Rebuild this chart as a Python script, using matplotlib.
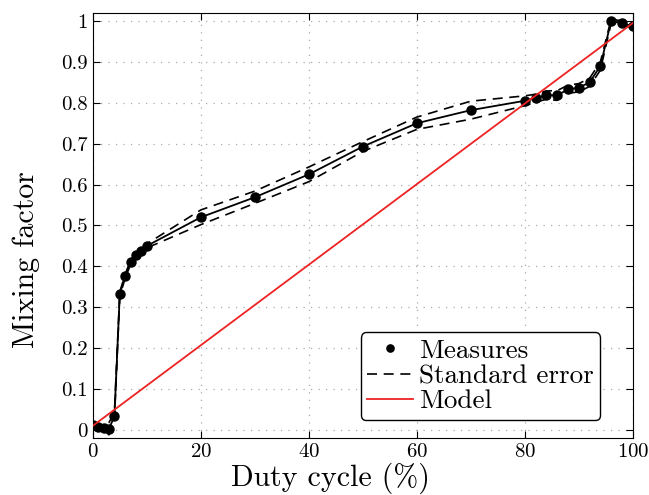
import numpy as np
import matplotlib.pyplot as plt

plt.rcParams['font.family'] = ['cmr10', 'DejaVu Serif']
plt.rcParams['axes.formatter.use_mathtext'] = True
plt.rcParams['mathtext.fontset'] = 'cm'

duty = [0, 1, 2, 3, 4, 5, 6, 7, 8, 9, 10, 20, 30, 40, 50, 60, 70, 80,
        82, 84, 86, 88, 90, 92, 94, 96, 98, 100]
mixing = [0.013, 0.008, 0.004, 0.003, 0.033, 0.333, 0.376, 0.41, 0.428, 0.437, 0.45,
          0.52, 0.569, 0.625, 0.693, 0.75, 0.782, 0.805, 0.811, 0.819, 0.818,
          0.833, 0.837, 0.85, 0.89, 1.0, 0.995, 0.987]
err = [0.005, 0.005, 0.008, 0.015, 0.01, 0.005, 0.005, 0.005, 0.005, 0.005, 0.005,
       0.018, 0.015, 0.018, 0.012, 0.015, 0.022, 0.012, 0.01, 0.01, 0.012,
       0.01, 0.01, 0.01, 0.01, 0.005, 0.005, 0.003]
model_x = [0, 100]
model_y = [0.01, 0.995]

duty = np.array(duty)
mixing = np.array(mixing)
err = np.array(err)

fig = plt.figure(figsize=(6.49, 4.95), dpi=100)
ax = fig.add_axes([0.143, 0.115, 0.832, 0.859])

# measured curve, its error band and the linear model
ax.plot(duty, mixing, color='black', lw=1.3, zorder=3)
ax.plot(duty, mixing, 'o', color='black', ms=6.5, zorder=4, label='Measures')
ax.plot(duty, mixing + err, '--', color='black', lw=1.2, dashes=(6, 4), zorder=3,
        label='Standard error')
ax.plot(duty, mixing - err, '--', color='black', lw=1.2, dashes=(6, 4), zorder=3)
ax.plot(model_x, model_y, color='#ee2222', lw=1.3, zorder=5, label='Model')

ax.set_xlim(0, 100)
ax.set_ylim(-0.02, 1.02)
ax.set_xticks(np.arange(0, 101, 20))
yt = np.arange(0, 1.01, 0.1)
ax.set_yticks(yt)
ax.set_yticklabels(['0'] + ['%.1f' % v for v in yt[1:-1]] + ['1'])
ax.tick_params(direction='in', top=True, right=True, labelsize=15, length=5)
ax.grid(True, linestyle=(0, (1, 5)), color='#aaaaaa', lw=0.9)
ax.set_axisbelow(True)

ax.set_xlabel('Duty cycle (%)', fontsize=21.5)
ax.xaxis.set_label_coords(0.44, -0.058)
ax.set_ylabel('Mixing factor', fontsize=21.5)
ax.yaxis.set_label_coords(-0.098, 0.42)

leg = ax.legend(loc='lower right', bbox_to_anchor=(0.94, 0.042), borderaxespad=0,
                fontsize=19.5, numpoints=1, handlelength=1.7, handletextpad=0.2,
                labelspacing=0.05, fancybox=True, framealpha=1, edgecolor='black',
                borderpad=0.25, markerscale=0.8)
leg.get_frame().set_linewidth(1.0)

fig.savefig('out.png', dpi=100)
